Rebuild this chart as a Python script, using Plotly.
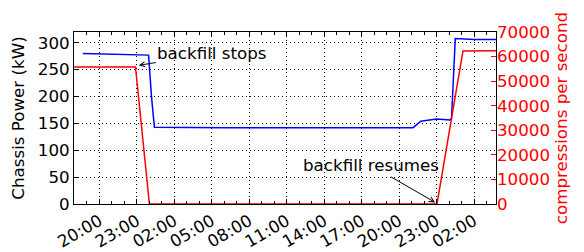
import plotly.graph_objects as go

# ---- data ----
power_times = [
    "2015-06-01 18:40", "2015-06-01 21:00", "2015-06-01 23:56",
    "2015-06-02 00:10", "2015-06-02 00:24", "2015-06-02 06:00",
    "2015-06-02 14:00", "2015-06-02 21:07", "2015-06-02 21:44",
    "2015-06-02 23:00", "2015-06-03 00:05", "2015-06-03 00:12",
    "2015-06-03 00:30", "2015-06-03 02:00", "2015-06-03 03:46",
]
power_kw = [280, 279, 277, 200, 143, 142, 142, 142, 154, 158, 156.5, 160, 308, 306, 306]

comp_times = [
    "2015-06-01 17:57", "2015-06-01 22:53", "2015-06-02 00:00",
    "2015-06-02 23:02", "2015-06-03 01:07", "2015-06-03 03:46",
]
comp_rate = [55800, 55800, 0, 0, 62300, 62400]

x_range = ["2015-06-01 17:57:36", "2015-06-03 03:45:36"]
tick0 = "2015-06-01 20:00"

FONT = "DejaVu Sans"
FS = 16.7

fig = go.Figure()
fig.add_trace(go.Scatter(x=power_times, y=power_kw, mode="lines",
                         line=dict(color="rgb(0,0,255)", width=1.5),
                         yaxis="y", showlegend=False, hoverinfo="skip"))
fig.add_trace(go.Scatter(x=comp_times, y=comp_rate, mode="lines",
                         line=dict(color="rgb(255,0,0)", width=1.5),
                         yaxis="y2", showlegend=False, hoverinfo="skip"))

grid_dash = "1px,3px"

# page body has an 8px margin, so the figure is sized/offset to compensate
fig.update_layout(
    width=576, height=244,
    margin=dict(l=66, r=88, t=24, b=48),
    paper_bgcolor="white", plot_bgcolor="white",
    font=dict(family=FONT, size=FS, color="black"),
    xaxis=dict(
        type="date", range=x_range, tick0=tick0, dtick=3 * 3600000,
        tickformat="%H:%M", tickangle=-30, automargin=False,
        ticks="inside", ticklen=5, tickcolor="black", tickwidth=1,
        showline=True, linecolor="black", linewidth=1, mirror="ticks",
        showgrid=True, gridcolor="black", gridwidth=1, griddash=grid_dash,
        zeroline=False,
        minor=dict(dtick=3600000, tick0=tick0, ticks="inside", ticklen=3,
                   tickcolor="black", showgrid=False),
        tickfont=dict(family=FONT, size=FS, color="black"),
    ),
    yaxis=dict(
        range=[0, 320], tick0=0, dtick=50, automargin=False,
        ticks="inside", ticklen=5, tickcolor="black",
        showline=True, linecolor="black", linewidth=1, mirror=True,
        showgrid=True, gridcolor="black", gridwidth=1, griddash=grid_dash,
        zeroline=False,
        title=dict(text="Chassis Power (kW)", standoff=8,
                   font=dict(family=FONT, size=FS, color="black")),
        tickfont=dict(family=FONT, size=FS, color="black"),
    ),
    yaxis2=dict(
        overlaying="y", side="right", range=[0, 70000], tick0=0, dtick=10000,
        tickformat="d", automargin=False,
        ticks="inside", ticklen=5, tickcolor="red",
        showline=False, showgrid=False, zeroline=False,
        title=dict(text="compressions per second", standoff=6,
                   font=dict(family=FONT, size=FS, color="red")),
        tickfont=dict(family=FONT, size=FS, color="red"),
    ),
    annotations=[
        dict(x="2015-06-01 23:09", y=258, xref="x", yref="y",
             text="backfill stops", showarrow=True, arrowhead=5,
             arrowsize=1, arrowwidth=1, arrowcolor="black",
             ax=73, ay=-12, font=dict(family=FONT, size=FS, color="black")),
        dict(x="2015-06-02 22:53", y=3, xref="x", yref="y",
             text="backfill resumes", showarrow=True, arrowhead=5,
             arrowsize=1, arrowwidth=1, arrowcolor="black",
             ax=-64, ay=-37, font=dict(family=FONT, size=FS, color="black")),
    ],
)

fig.write_html("out.html")
